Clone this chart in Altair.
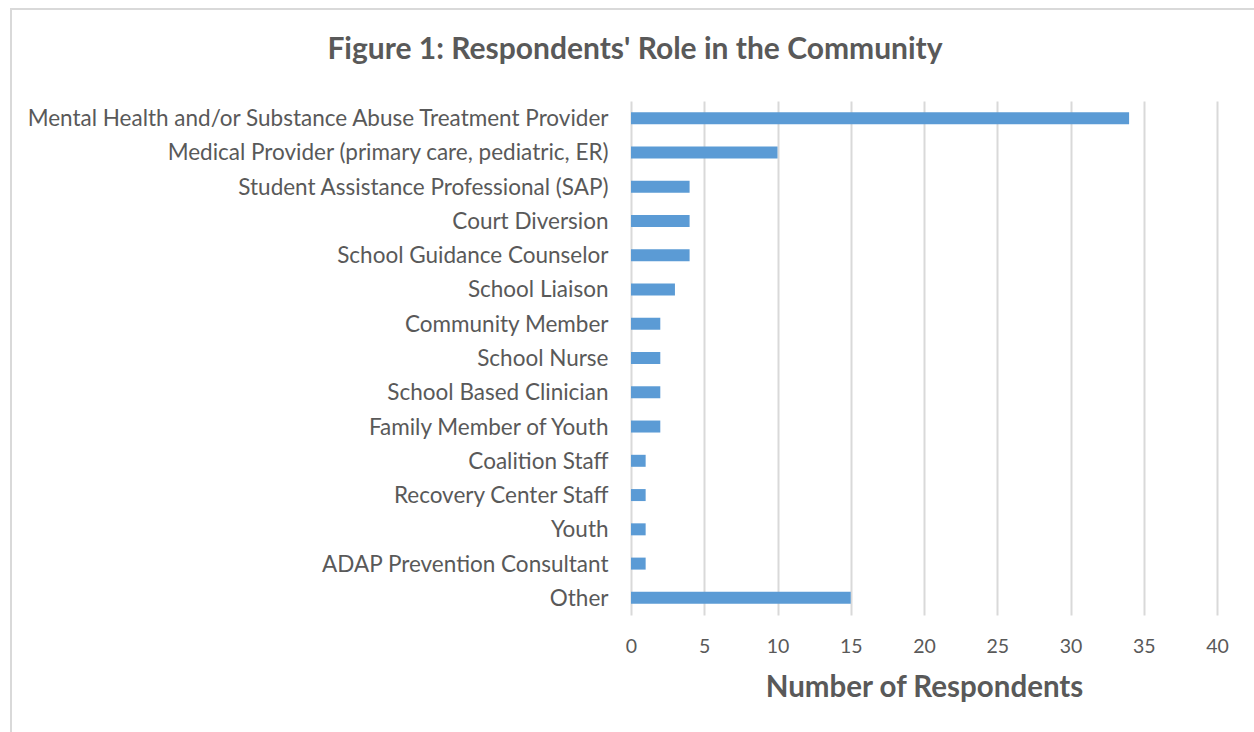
import altair as alt
import pandas as pd

roles = [
    "Mental Health and/or Substance Abuse Treatment Provider",
    "Medical Provider (primary care, pediatric, ER)",
    "Student Assistance Professional (SAP)",
    "Court Diversion",
    "School Guidance Counselor",
    "School Liaison",
    "Community Member",
    "School Nurse",
    "School Based Clinician ",
    "Family Member of Youth",
    "Coalition Staff",
    "Recovery Center Staff",
    "Youth",
    "ADAP Prevention Consultant",
    "Other",
]
counts = [34, 10, 4, 4, 4, 3, 2, 2, 2, 2, 1, 1, 1, 1, 15]
x_ticks = [0, 5, 10, 15, 20, 25, 30, 35, 40]

df = pd.DataFrame({"role": roles, "count": counts})

FONT = "Lato"
GREY = "#595959"

bars = alt.Chart(df).mark_bar(color="#5B9BD5").encode(
    x=alt.X(
        "count:Q",
        scale=alt.Scale(domain=[0, 40], nice=False),
        axis=alt.Axis(
            values=x_ticks,
            title="Number of Respondents",
            grid=True,
            gridColor="#d9d9d9",
            gridWidth=2,
            domain=False,
            ticks=False,
            labelFlush=False,
            labelFont=FONT,
            labelFontSize=19.5,
            labelColor=GREY,
            labelPadding=22,
            titleFont=FONT,
            titleFontSize=29.5,
            titleFontWeight="bold",
            titleColor=GREY,
            titlePadding=18,
        ),
    ),
    y=alt.Y(
        "role:N",
        sort=roles,
        scale=alt.Scale(paddingInner=0.65, paddingOuter=0.325),
        axis=alt.Axis(
            title=None,
            grid=False,
            domain=False,
            ticks=False,
            labelFont=FONT,
            labelFontSize=22.5,
            labelColor=GREY,
            labelPadding=23,
            labelLimit=700,
            labelOffset=1,
        ),
    ),
)

frame = alt.Chart(pd.DataFrame({"k": [0]})).mark_rect(
    fill="transparent", stroke="#d9d9d9", strokeWidth=2
).encode(
    x=alt.value(-620), x2=alt.value(700), y=alt.value(-92), y2=alt.value(700)
)

chart = (
    alt.layer(frame, bars)
    .properties(
        width=586,
        height=514,
        background="white",
        padding={"left": 631, "top": 101, "right": 37, "bottom": 117},
        autosize=alt.AutoSizeParams(type="none"),
        title=alt.TitleParams(
            "Figure 1: Respondents' Role in the Community",
            font=FONT,
            fontSize=30,
            fontWeight="bold",
            color=GREY,
            anchor="middle",
            frame="group",
            baseline="middle",
            dx=-289,
            offset=-72,
        ),
    )
    .configure_view(strokeWidth=0, stroke="transparent")
)

chart.save("out.html", embed_options={"renderer": "svg", "actions": False})
